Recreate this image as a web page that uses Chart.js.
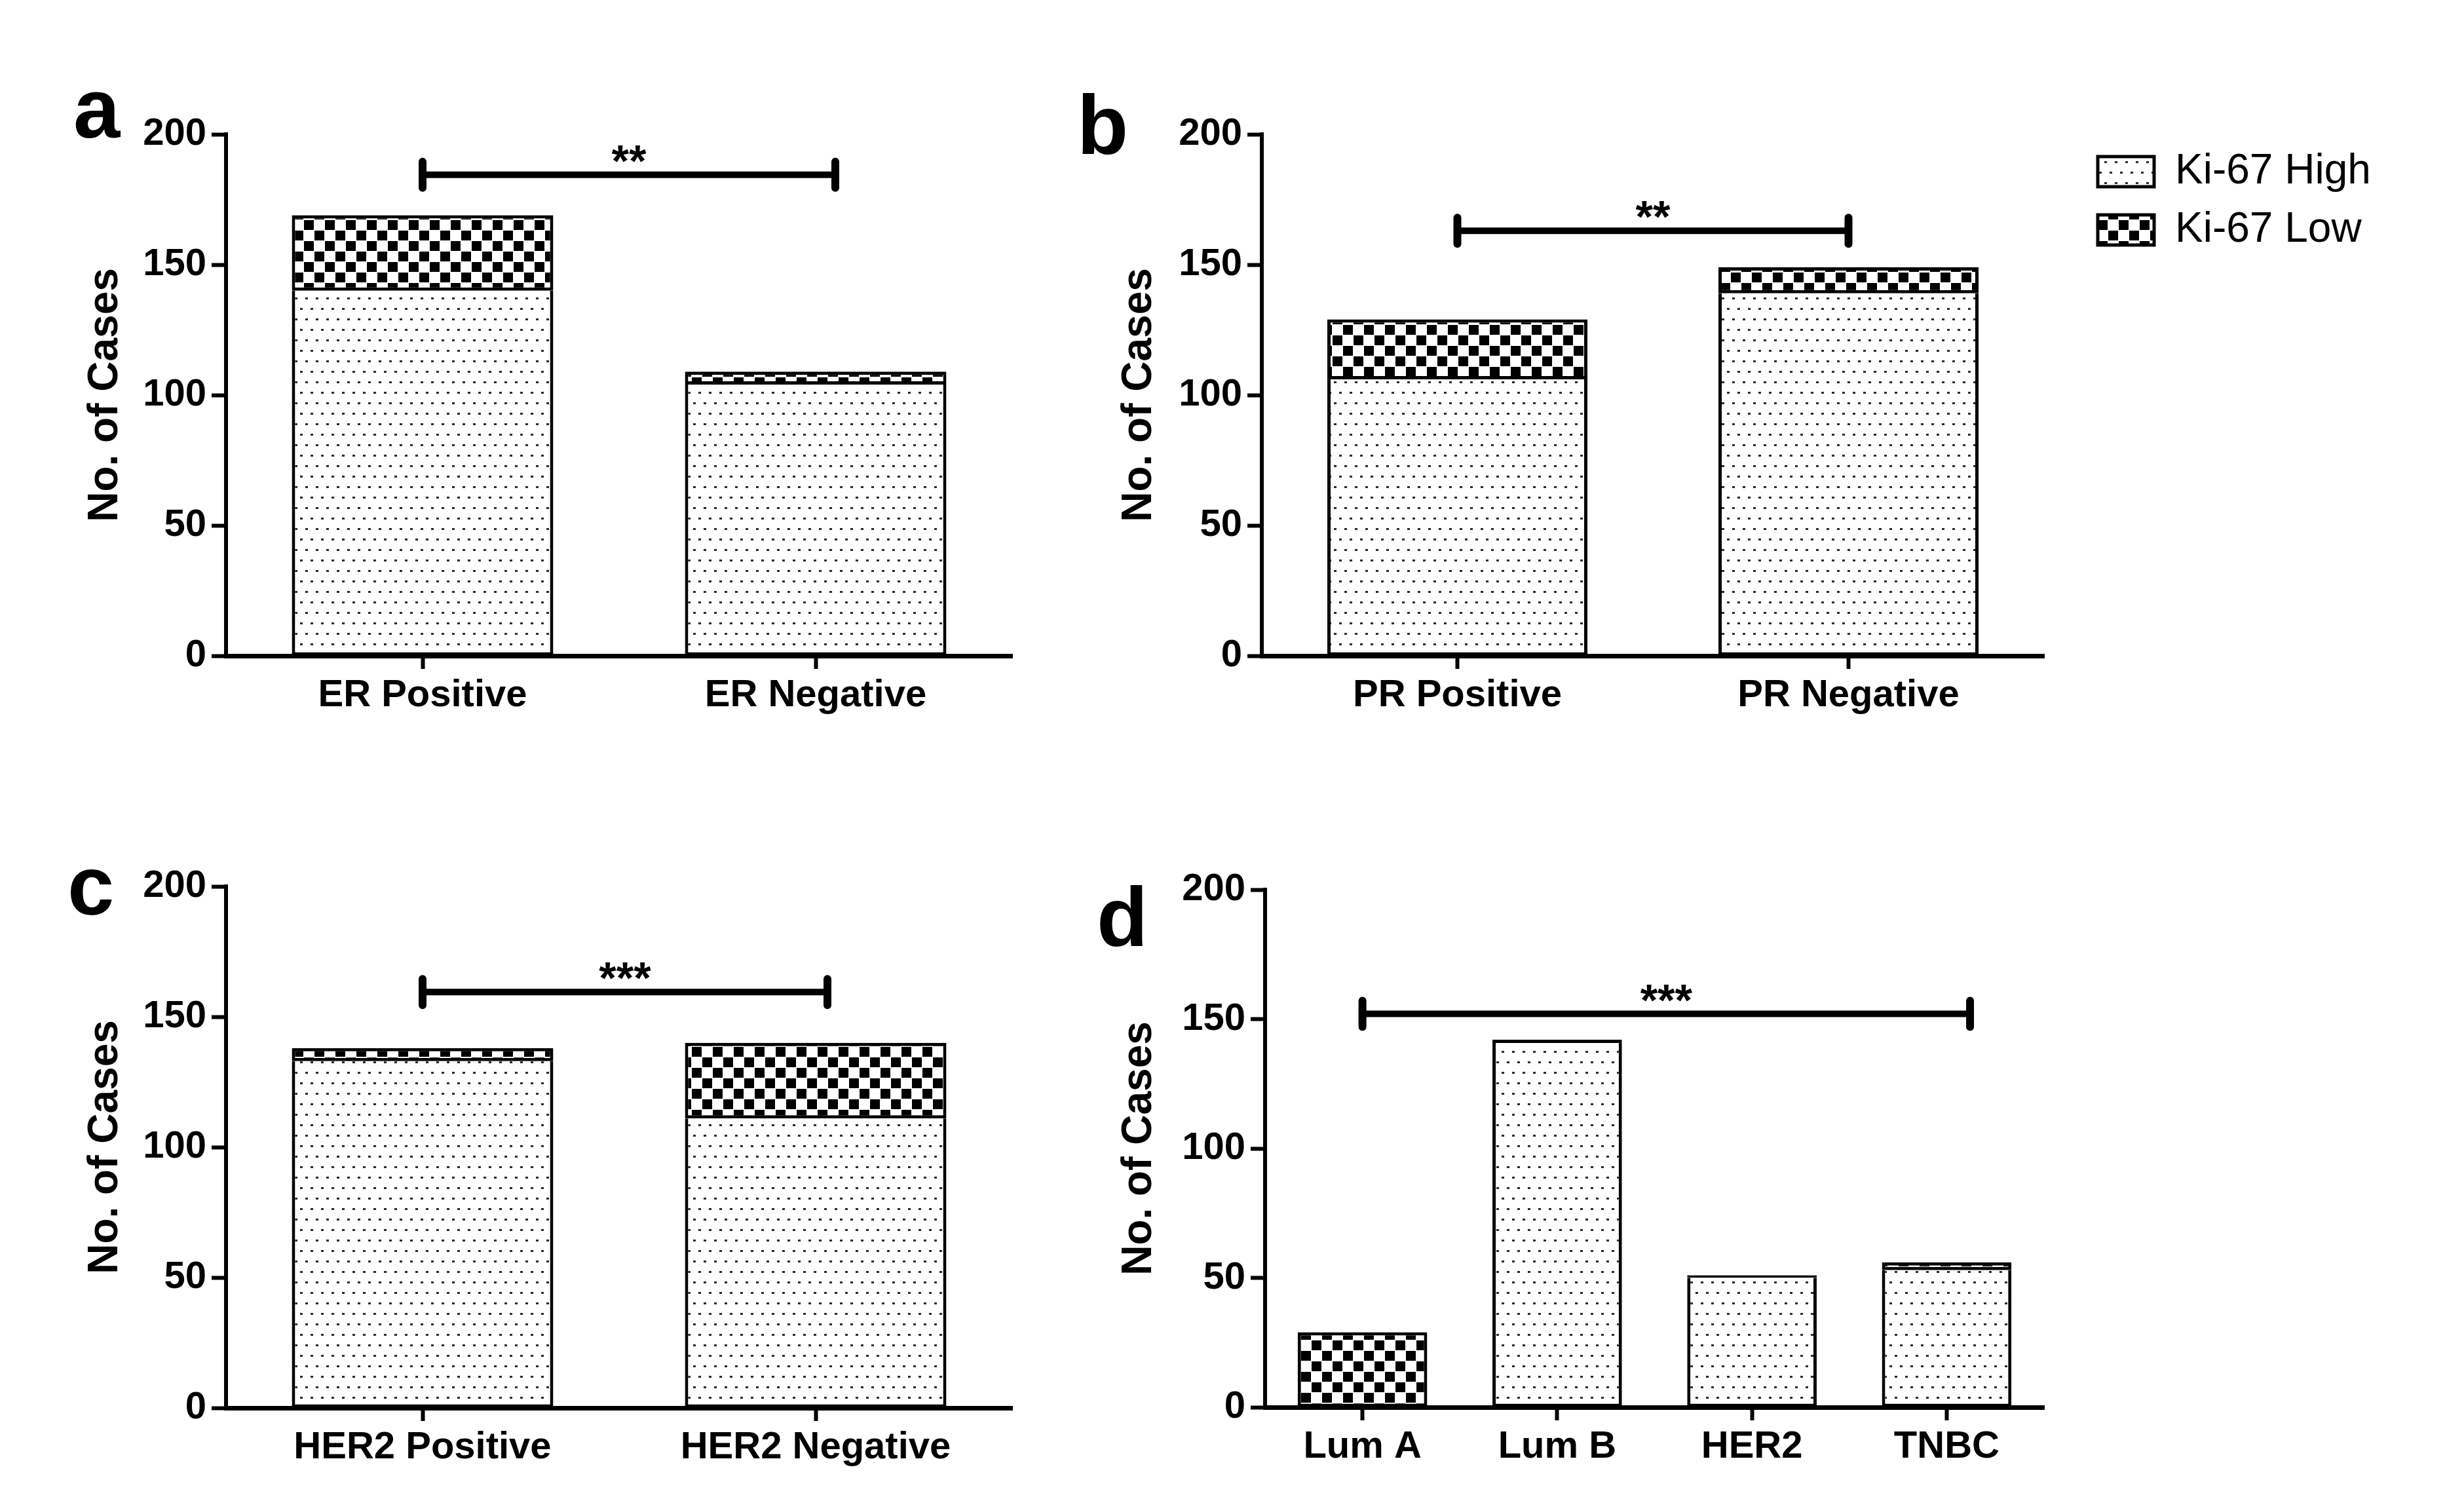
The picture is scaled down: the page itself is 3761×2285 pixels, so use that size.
<!DOCTYPE html>
<html>
<head>
<meta charset="utf-8">
<script src="https://cdn.jsdelivr.net/npm/chart.js@4.4.1/dist/chart.umd.min.js"></script>
<style>
  html, body { margin: 0; padding: 0; background: #fff; }
  body { width: 3761px; height: 2285px; position: relative; overflow: hidden; }
  canvas { position: absolute; }
</style>
</head>
<body>
<canvas id="chartA" width="1600" height="1130" style="left:0px;top:0px"></canvas>
<canvas id="chartB" width="2111" height="1130" style="left:1650px;top:0px"></canvas>
<canvas id="chartC" width="1600" height="1135" style="left:0px;top:1150px"></canvas>
<canvas id="chartD" width="1550" height="1135" style="left:1650px;top:1150px"></canvas>
<script>
// --- data ---
const seriesNames = ["Ki-67 High", "Ki-67 Low"];
const yTicks = [0, 50, 100, 150, 200];

const erLabels = ["ER Positive", "ER Negative"];
const erHigh   = [140, 104];
const erLow    = [29, 5];

const prLabels = ["PR Positive", "PR Negative"];
const prHigh   = [106, 139];
const prLow    = [23, 10];

const her2Labels = ["HER2 Positive", "HER2 Negative"];
const her2High   = [133, 111];
const her2Low    = [5, 29];

const subLabels = ["Lum A", "Lum B", "HER2", "TNBC"];
const subHigh   = [0, 142, 50, 53];
const subLow    = [29, 0, 1, 3];

// significance bars: [from category, to category, y value, text]
const erSig   = [0, 1.05, 184.5, "**"];
const prSig   = [0, 1, 163, "**"];
const her2Sig = [0, 1.03, 159.5, "***"];
const subSig  = [0, 3.12, 152, "***"];

const FONT = "'Liberation Sans', Arial, Helvetica, sans-serif";
Chart.defaults.font.family = FONT;
Chart.defaults.color = "#000";
Chart.defaults.animation = false;

// --- hatch fills ---
function dotPattern() {
  const c = document.createElement("canvas");
  c.width = 16; c.height = 32;
  const g = c.getContext("2d");
  g.fillStyle = "#fff";
  g.fillRect(0, 0, 16, 32);
  g.fillStyle = "#2b2b2b";
  g.fillRect(2, 6, 4, 3);
  g.fillRect(10, 22, 4, 3);
  return g.createPattern(c, "repeat");
}

function checkerPattern() {
  const c = document.createElement("canvas");
  c.width = 32; c.height = 32;
  const g = c.getContext("2d");
  g.fillStyle = "#fff";
  g.fillRect(0, 0, 32, 32);
  g.fillStyle = "#000";
  g.fillRect(0, 0, 15, 15);
  g.fillRect(16, 16, 15, 15);
  return g.createPattern(c, "repeat");
}

const highFill = dotPattern();
const lowFill  = checkerPattern();

// --- plugins ---
const bracketPlugin = {
  id: "sigBracket",
  afterDatasetsDraw(chart, args, o) {
    if (!o.sig) return;
    const [from, to, yVal, text] = o.sig;
    const xs = chart.scales.x, ys = chart.scales.y;
    const x1 = xs.getPixelForValue(from);
    const x2 = xs.getPixelForValue(to);
    const py = ys.getPixelForValue(yVal);
    const ctx = chart.ctx;
    ctx.save();
    ctx.strokeStyle = "#000";
    ctx.lineCap = "round";
    ctx.lineWidth = 10;
    ctx.beginPath();
    ctx.moveTo(x1, py);
    ctx.lineTo(x2, py);
    ctx.stroke();
    ctx.lineWidth = 12;
    ctx.beginPath();
    ctx.moveTo(x1, py - 20); ctx.lineTo(x1, py + 20);
    ctx.moveTo(x2, py - 20); ctx.lineTo(x2, py + 20);
    ctx.stroke();
    ctx.fillStyle = "#000";
    ctx.font = "bold 68px " + FONT;
    ctx.textAlign = "center";
    ctx.textBaseline = "alphabetic";
    ctx.fillText(text, (x1 + x2) / 2, py + 2);
    ctx.restore();
  }
};

const letterPlugin = {
  id: "panelLetter",
  afterDraw(chart, args, o) {
    if (!o.text) return;
    const a = chart.chartArea, ctx = chart.ctx;
    ctx.save();
    ctx.font = "bold 128px " + FONT;
    ctx.fillStyle = "#000";
    ctx.textBaseline = "alphabetic";
    ctx.fillText(o.text, a.left + o.dx, a.top + o.dy);
    ctx.restore();
  }
};

// leaves a gap between the plot and the legend on its right
const legendGap = {
  id: "legendGap",
  afterLayout(chart, args, o) {
    const lg = chart.legend;
    if (!lg || !o.gap || !lg.options.display) return;
    lg.left += o.gap;
    lg.right += o.gap;
  }
};

function makePanel(id, cats, high, low, sig, lay) {
  return new Chart(document.getElementById(id), {
    type: "bar",
    data: {
      labels: cats,
      datasets: [
        {
          label: seriesNames[0],
          data: high,
          backgroundColor: highFill,
          borderColor: "#000",
          borderWidth: 5,
          borderSkipped: c => (low[c.dataIndex] > 0 ? "top" : false),
          categoryPercentage: 1,
          barPercentage: 0.665
        },
        {
          label: seriesNames[1],
          data: low,
          backgroundColor: lowFill,
          borderColor: "#000",
          borderWidth: 5,
          borderSkipped: false,
          categoryPercentage: 1,
          barPercentage: 0.665
        }
      ]
    },
    options: {
      responsive: false,
      animation: false,
      layout: { padding: { left: 0, top: lay.top, right: lay.right, bottom: 0 } },
      scales: {
        x: {
          stacked: true,
          offset: true,
          grid: { offset: false, drawOnChartArea: false, color: "#000", tickLength: 20, tickWidth: 6 },
          border: { color: "#000", width: 7 },
          ticks: { font: { size: 58, weight: "bold" }, color: "#000", padding: 6, maxRotation: 0, autoSkip: false },
          afterFit: s => { s.height = lay.xh; }
        },
        y: {
          stacked: true,
          min: 0,
          max: 200,
          afterBuildTicks: s => { s.ticks = yTicks.map(v => ({ value: v })); },
          grid: { drawOnChartArea: false, color: "#000", tickLength: 22, tickWidth: 6 },
          border: { color: "#000", width: 6 },
          ticks: { font: { size: 58, weight: "bold" }, color: "#000", padding: 8 },
          title: {
            display: true,
            text: "No. of Cases",
            color: "#000",
            font: { size: 64, weight: "bold" },
            padding: { top: lay.tp, bottom: 0 }
          },
          afterFit: s => { s.width = lay.yw; }
        }
      },
      plugins: {
        legend: lay.legend ? {
          display: true,
          position: "right",
          align: "start",
          labels: { boxWidth: 86, boxHeight: 46, padding: 25, color: "#000", font: { size: 64 } }
        } : { display: false },
        tooltip: { enabled: false },
        legendGap: { gap: lay.legend ? 57 : 0 },
        sigBracket: { sig },
        panelLetter: { text: lay.letter, dx: lay.dx, dy: lay.dy }
      }
    },
    plugins: [bracketPlugin, letterPlugin, legendGap]
  });
}

makePanel("chartA", erLabels, erHigh, erLow, erSig,
  { yw: 345, xh: 129, top: 205, right: 55, tp: 123, letter: "a", dx: -233, dy: 5 });

const chartB = makePanel("chartB", prLabels, prHigh, prLow, prSig,
  { yw: 276, xh: 129, top: 205, right: 0, tp: 51, legend: true, letter: "b", dx: -282, dy: 30 });
// keep the plot's right edge where the reference has it, legend takes the rest
for (let i = 0; i < 4; i++) {
  const diff = chartB.chartArea.right - 1470;
  if (Math.abs(diff) < 0.5) break;
  chartB.options.layout.padding.right += diff;
  chartB.update();
}

makePanel("chartC", her2Labels, her2High, her2Low, her2Sig,
  { yw: 345, xh: 136, top: 203, right: 55, tp: 123, letter: "c", dx: -242, dy: 43 });

makePanel("chartD", subLabels, subHigh, subLow, subSig,
  { yw: 281, xh: 137, top: 208, right: 80, tp: 51, letter: "d", dx: -257, dy: 86 });
</script>
</body>
</html>
